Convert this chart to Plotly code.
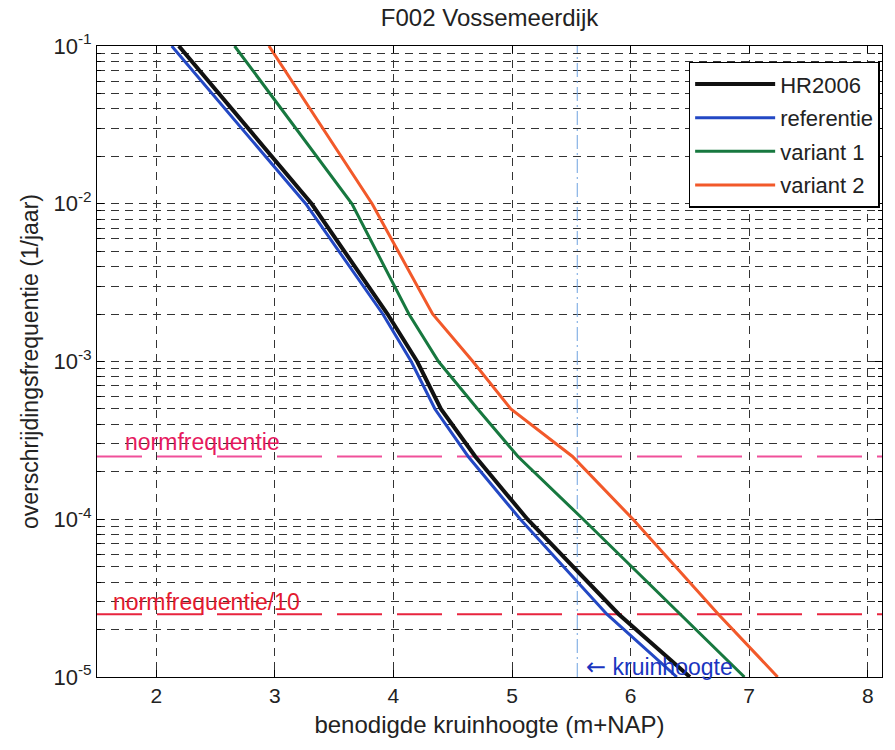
import math
import plotly.graph_objects as go

# Exceedance frequencies (1/jaar) at which the crest heights are given
freq = [1e-1, 1e-2, 2e-3, 1e-3, 5e-4, 2.5e-4, 1e-4, 2.5e-5, 1e-5]

# Required crest height (m+NAP) per scenario
hr2006 = [2.19, 3.31, 3.95, 4.20, 4.40, 4.69, 5.13, 5.90, 6.50]
referentie = [2.13, 3.26, 3.91, 4.15, 4.35, 4.63, 5.07, 5.80, 6.39]
variant1 = [2.66, 3.65, 4.13, 4.38, 4.71, 5.05, 5.60, 6.42, 6.96]
variant2 = [2.95, 3.82, 4.33, 4.67, 4.99, 5.51, 6.02, 6.74, 7.24]

series_names = ["HR2006", "referentie", "variant 1", "variant 2"]
series_colors = ["#111111", "#2348c4", "#17783f", "#f2592a"]

normfrequentie = 2.5e-4
kruinhoogte = 5.55

x_range = [1.5, 8.12]
y_range = [1e-5, 1e-1]
x_ticks = [2, 3, 4, 5, 6, 7, 8]
y_ticks = [1e-5, 1e-4, 1e-3, 1e-2, 1e-1]
y_ticktext = ["10<sup>-5</sup>", "10<sup>-4</sup>", "10<sup>-3</sup>",
              "10<sup>-2</sup>", "10<sup>-1</sup>"]

FONT = "Liberation Sans, Arial, sans-serif"

fig = go.Figure()

# Norm frequency reference lines
fig.add_trace(go.Scatter(
    x=x_range, y=[normfrequentie, normfrequentie], mode="lines",
    line=dict(color="#f0509a", width=2, dash="45px,15px"),
    showlegend=False, hoverinfo="skip"))
fig.add_trace(go.Scatter(
    x=x_range, y=[normfrequentie / 10, normfrequentie / 10], mode="lines",
    line=dict(color="#e8243f", width=2, dash="45px,15px"),
    showlegend=False, hoverinfo="skip"))

# Current crest height
fig.add_trace(go.Scatter(
    x=[kruinhoogte, kruinhoogte], y=y_range, mode="lines",
    line=dict(color="#6fa3e0", width=1, dash="14px,4px,2px,4px"),
    showlegend=False, hoverinfo="skip"))

for i, (name, vals, col) in enumerate(zip(
        series_names, [hr2006, referentie, variant1, variant2], series_colors)):
    fig.add_trace(go.Scatter(
        x=vals, y=freq, mode="lines", name=name,
        line=dict(color=col, width=4 if i == 0 else 3),
        legendgroup=name))

grid_dash = "8px,6px"

fig.update_xaxes(
    range=x_range, tickvals=x_ticks, ticks="inside", ticklen=7,
    tickcolor="black", showline=True, linecolor="black", linewidth=1,
    mirror="ticks", showgrid=True, gridcolor="#333333", griddash=grid_dash,
    gridwidth=1, zeroline=False,
    tickfont=dict(family=FONT, size=21, color="#222"),
    title=dict(text="benodigde kruinhoogte (m+NAP)",
               font=dict(family=FONT, size=24, color="#222"), standoff=9),
)
fig.update_yaxes(
    type="log", range=[math.log10(y_range[0]), math.log10(y_range[1])],
    tickvals=y_ticks, ticktext=y_ticktext, ticks="inside", ticklen=7,
    tickcolor="black", showline=True, linecolor="black", linewidth=1,
    mirror="ticks", showgrid=True, gridcolor="#333333", griddash=grid_dash,
    gridwidth=1, zeroline=False,
    minor=dict(dtick="D1", ticks="inside", ticklen=4, tickcolor="black",
               showgrid=True, gridcolor="#333333", griddash=grid_dash,
               gridwidth=1),
    tickfont=dict(family=FONT, size=22, color="#222"),
    title=dict(text="overschrijdingsfrequentie (1/jaar)",
               font=dict(family=FONT, size=23, color="#222"), standoff=8),
)

fig.add_annotation(
    x=1.72, y=math.log10(3.1e-4), xref="x", yref="y", text="normfrequentie",
    showarrow=False, xanchor="left", yanchor="middle",
    font=dict(family=FONT, size=23, color="#e6195e"))
fig.add_annotation(
    x=1.62, y=math.log10(3.0e-5), xref="x", yref="y", text="normfrequentie/10",
    showarrow=False, xanchor="left", yanchor="middle",
    font=dict(family=FONT, size=23, color="#e3192f"))
fig.add_annotation(
    x=5.61, y=math.log10(1.15e-5), xref="x", yref="y",
    text='<span style="font-family:DejaVu Sans;font-size:24px">\u2190</span> kruinhoogte',
    showarrow=False, xanchor="left", yanchor="middle",
    font=dict(family=FONT, size=23, color="#1a35c0"))

fig.update_layout(
    width=895, height=750,
    margin=dict(l=97, r=13, t=46, b=73),
    paper_bgcolor="white", plot_bgcolor="white",
    title=dict(text="F002 Vossemeerdijk", x=0.547, xanchor="center",
               y=0.976, yanchor="middle",
               font=dict(family=FONT, size=24, color="#222")),
    legend=dict(x=0.997, xanchor="right", y=0.975, yanchor="top",
                bgcolor="white", bordercolor="black", borderwidth=1.5,
                font=dict(family=FONT, size=22, color="#222"),
                itemwidth=80, tracegroupgap=2, traceorder="grouped"),
    showlegend=True,
)

fig.write_html("out.html")
